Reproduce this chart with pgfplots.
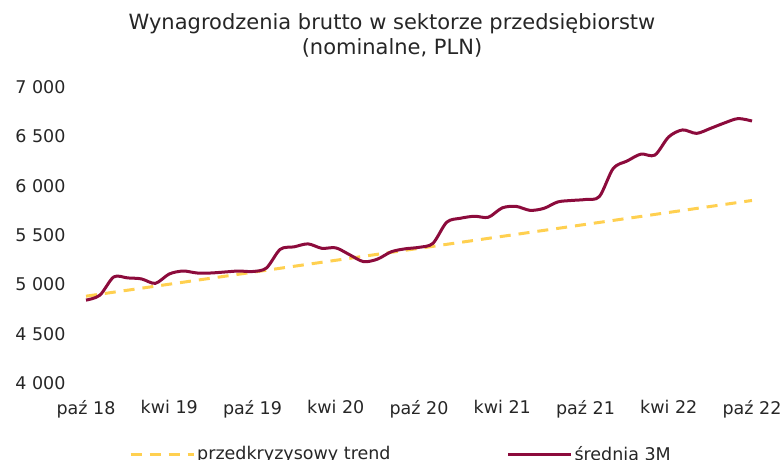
\documentclass[border=0pt]{standalone}
\usepackage{pgfplots}
\pgfplotsset{compat=1.18}
\usepackage{fontspec}
\setmainfont{DejaVu Sans}
\definecolor{wred}{HTML}{8C0B3C}
\definecolor{wyel}{HTML}{FFD050}
\definecolor{txt}{HTML}{262626}
\begin{document}
\begin{tikzpicture}[x=1pt,y=1pt]
\useasboundingbox (0,0) rectangle (784,459);
\node[font=\fontsize{21}{25}\selectfont, text=txt, align=center] at (392,424) {Wynagrodzenia brutto w sektorze przedsiębiorstw\\(nominalne, PLN)};
\begin{axis}[
  at={(86pt,76pt)}, anchor=south west,
  scale only axis, width=666pt, height=296pt,
  xmin=0, xmax=48, ymin=4000, ymax=7000,
  axis line style={draw=none},
  tick style={draw=none},
  xtick={0,6,...,48},
  xticklabels={paź 18,kwi 19,paź 19,kwi 20,paź 20,kwi 21,paź 21,kwi 22,paź 22},
  ytick={4000,4500,...,7000},
  /pgf/number format/assume math mode=true,
  /pgf/number format/.cd, 1000 sep={\ }, /pgfplots/.cd,
  ticklabel style={font=\fontsize{17.5}{20}\selectfont, text=txt},
  xticklabel style={yshift=-14pt},
  yticklabel style={xshift=-17pt},
  clip=false,
  legend style={draw=none, at={(0.473,-0.240)}, anchor=center, legend columns=2,
    font=\fontsize{17.5}{20}\selectfont, text=txt,
    /tikz/every even column/.append style={column sep=114pt}},
  legend image code/.code={\draw[#1] (0pt,0pt) -- (63pt,0pt);},
]
\addplot[wyel, line width=3pt, dash pattern=on 11pt off 8pt] coordinates {(0,4880) (48,5850)};
\addlegendentry{przedkryzysowy trend}
\addplot[wred, line width=3pt, smooth] coordinates {
(0,4840) (1,4890) (2,5075) (3,5065) (4,5055) (5,5010) (6,5105) (7,5135) (8,5115) (9,5115)
(10,5125) (11,5135) (12,5130) (13,5165) (14,5355) (15,5380) (16,5410) (17,5365) (18,5370) (19,5300)
(20,5230) (21,5255) (22,5330) (23,5360) (24,5375) (25,5415) (26,5630) (27,5670) (28,5690) (29,5680)
(30,5775) (31,5790) (32,5750) (33,5770) (34,5835) (35,5850) (36,5860) (37,5890) (38,6175) (39,6250)
(40,6320) (41,6310) (42,6495) (43,6565) (44,6530) (45,6580) (46,6635) (47,6680) (48,6655)};
\addlegendentry{średnia 3M}
\end{axis}
\end{tikzpicture}
\end{document}
